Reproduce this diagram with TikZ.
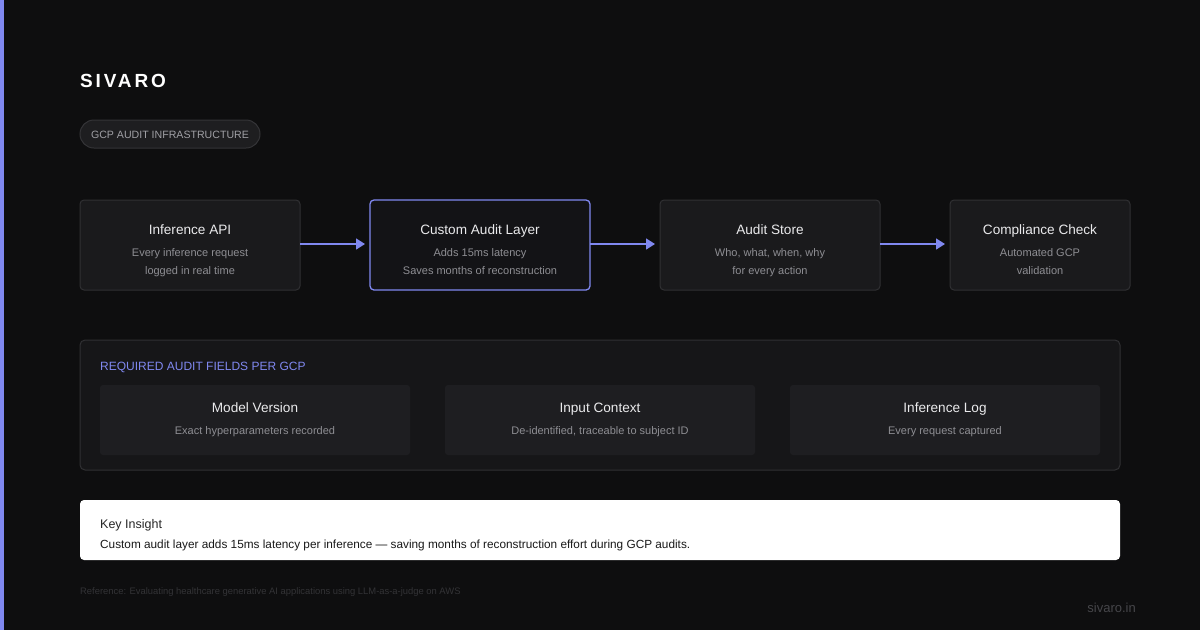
\documentclass[tikz,border=0pt]{standalone}
\usepackage{fontspec}
\setmainfont{Liberation Sans}
\usetikzlibrary{arrows.meta}
\definecolor{bg}{HTML}{0E0E0F}
\definecolor{accent}{HTML}{8088F0}
\definecolor{boxfill}{HTML}{1A1A1C}
\definecolor{boxline}{HTML}{303033}
\definecolor{hifill}{HTML}{131316}
\definecolor{titlec}{HTML}{EAEAEC}
\definecolor{subc}{HTML}{8E8E93}
\definecolor{panelfill}{HTML}{161618}
\definecolor{innerfill}{HTML}{1E1E21}
\definecolor{pillfill}{HTML}{1E1E20}
\definecolor{pillline}{HTML}{343437}
\definecolor{pilltext}{HTML}{A0A0A5}
\definecolor{reftext}{HTML}{333336}
\definecolor{urltext}{HTML}{46464A}
\begin{document}
\begin{tikzpicture}[x=1pt,y=-1pt,
  stage/.style={draw=boxline,fill=boxfill,rounded corners=4pt,line width=1pt},
  hstage/.style={draw=accent,fill=hifill,rounded corners=4pt,line width=1.3pt},
  ttl/.style={text=titlec,font=\fontsize{13.6}{16}\selectfont,anchor=base},
  sub/.style={text=subc,font=\fontsize{11}{12}\selectfont,anchor=base},
  flow/.style={draw=accent,line width=1.5pt,-{Triangle[length=9pt,width=11pt]}},
  field/.style={fill=innerfill,rounded corners=3pt},
]
\fill[bg] (0,0) rectangle (1200,630);
\useasboundingbox (0,0) rectangle (1200,630);
\fill[accent] (0,0) rectangle (4,630);

% header
\node[anchor=base west,inner sep=0,text=white,font=\fontsize{19}{22}\selectfont\bfseries\addfontfeature{LetterSpace=15}] (brand) at (80,87) {SIVARO};
\draw[pillline,fill=pillfill,line width=1pt,rounded corners=14pt] (80,120) rectangle (260,148);
\node[anchor=base,text=pilltext,font=\fontsize{10.6}{13}\selectfont] (pill) at (170,138) {GCP AUDIT INFRASTRUCTURE};

% stages
\draw[stage] (80,200) rectangle (300,290);
\draw[hstage] (370,200) rectangle (590,290);
\draw[stage] (660,200) rectangle (880,290);
\draw[stage] (950,200) rectangle (1130,290);
\coordinate (s1r) at (300,244); \coordinate (s2l) at (370,244);
\coordinate (s2r) at (590,244); \coordinate (s3l) at (660,244);
\coordinate (s3r) at (880,244); \coordinate (s4l) at (950,244);

\node[ttl] (t1) at (190,234) {Inference API};
\node[sub] (a1) at (190,256) {Every inference request};
\node[sub] (b1) at (190,274) {logged in real time};
\node[ttl] (t2) at (480,234) {Custom Audit Layer};
\node[sub] (a2) at (480,256) {Adds 15ms latency};
\node[sub] (b2) at (480,274) {Saves months of reconstruction};
\node[ttl] (t3) at (770,234) {Audit Store};
\node[sub] (a3) at (770,256) {Who, what, when, why};
\node[sub] (b3) at (770,274) {for every action};
\node[ttl] (t4) at (1040,234) {Compliance Check};
\node[sub] (a4) at (1040,256) {Automated GCP};
\node[sub] (b4) at (1040,274) {validation};

\draw[flow] (s1r) -- ([xshift=-5pt]s2l);
\draw[flow] (s2r) -- ([xshift=-5pt]s3l);
\draw[flow] (s3r) -- ([xshift=-5pt]s4l);

% panel
\draw[draw=boxline,fill=panelfill,rounded corners=5pt,line width=1pt] (80,340) rectangle (1120,470);
\node[anchor=base west,inner sep=0,text=accent,font=\fontsize{12}{14}\selectfont] (ptitle) at (100,370) {REQUIRED AUDIT FIELDS PER GCP};
\fill[field] (100,385) rectangle (410,455);
\fill[field] (445,385) rectangle (755,455);
\fill[field] (790,385) rectangle (1100,455);
\node[ttl] (f1) at (255,412) {Model Version};
\node[sub] (g1) at (255,434) {Exact hyperparameters recorded};
\node[ttl] (f2) at (600,412) {Input Context};
\node[sub] (g2) at (600,434) {De-identified, traceable to subject ID};
\node[ttl] (f3) at (945,412) {Inference Log};
\node[sub] (g3) at (945,434) {Every request captured};

% key insight
\fill[white,rounded corners=4pt] (80,500) rectangle (1120,560);
\node[anchor=base west,inner sep=0,text=black!85,font=\fontsize{12.5}{14}\selectfont] (ki) at (100,528) {Key Insight};
\node[anchor=base west,inner sep=0,text=black!90,font=\fontsize{11.8}{13}\selectfont] (kb) at (100,548) {Custom audit layer adds 15ms latency per inference — saving months of reconstruction effort during GCP audits.};

% footer
\node[anchor=base west,inner sep=0,text=reftext,font=\fontsize{9.4}{11}\selectfont] (ref) at (80,594) {Reference: Evaluating healthcare generative AI applications using LLM-as-a-judge on AWS};
\node[anchor=base east,inner sep=0,text=urltext,font=\fontsize{13}{15}\selectfont] (url) at (1136,612) {sivaro.in};
\end{tikzpicture}
\end{document}
